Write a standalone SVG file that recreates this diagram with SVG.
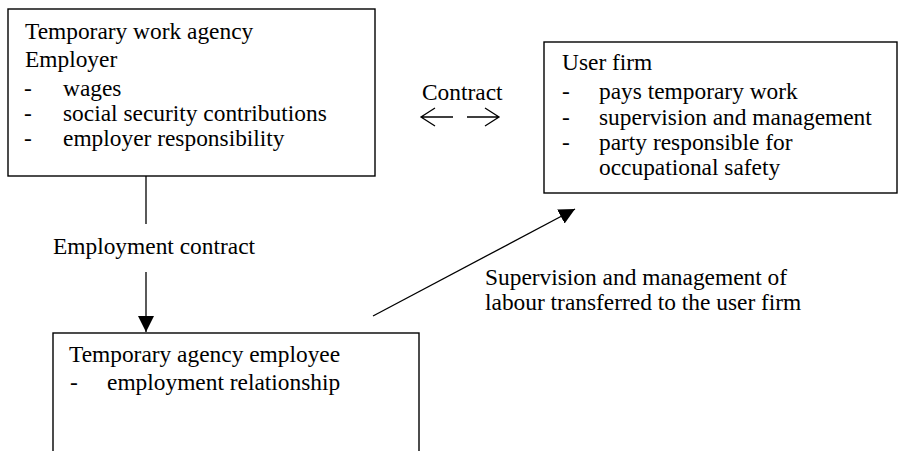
<svg xmlns="http://www.w3.org/2000/svg" width="899" height="451" viewBox="0 0 899 451">
<style>
text{font-family:"Liberation Serif","Times New Roman",serif;font-size:23.4px;fill:#000}
.box{fill:#fff;stroke:#000;stroke-width:1.4}
.ln{stroke:#000;stroke-width:1.3;fill:none}
</style>
<defs>
<marker id="ah" viewBox="0 0 16 16" refX="16" refY="8" markerWidth="16" markerHeight="16" markerUnits="userSpaceOnUse" orient="auto">
<path d="M0,0 L16,8 L0,16 Z" fill="#000"/>
</marker>
</defs>
<rect width="899" height="451" fill="#fff"/>
<g id="agency">
<rect class="box" x="8" y="9" width="367" height="167"/>
<text x="25" y="39">Temporary work agency</text>
<text x="25" y="67">Employer</text>
<text x="24" y="96">-</text><text x="63" y="96">wages</text>
<text x="24" y="121">-</text><text x="63" y="121">social security contributions</text>
<text x="24" y="146">-</text><text x="63" y="146">employer responsibility</text>
</g>
<g id="userfirm">
<rect class="box" x="544" y="42" width="353" height="151"/>
<text x="562" y="70">User firm</text>
<text x="562" y="99">-</text><text x="599" y="99">pays temporary work</text>
<text x="562" y="125">-</text><text x="599" y="125">supervision and management</text>
<text x="562" y="150">-</text><text x="599" y="150">party responsible for</text>
<text x="599" y="175">occupational safety</text>
</g>
<g id="employee">
<rect class="box" x="53" y="333" width="366" height="130"/>
<text x="69" y="362">Temporary agency employee</text>
<text x="70" y="390">-</text><text x="107" y="390">employment relationship</text>
</g>
<g id="connectors">
<line class="ln" x1="146" y1="176" x2="146" y2="224"/>
<text x="53" y="254">Employment contract</text>
<line class="ln" x1="146" y1="272" x2="146" y2="332" marker-end="url(#ah)"/>
<text x="422" y="100">Contract</text>
<path class="ln" d="M453,117 H421 M435,108 L421,117 L435,126"/>
<path class="ln" d="M467,117 H499 M485,108 L499,117 L485,126"/>
<line class="ln" x1="373" y1="316" x2="575" y2="209" marker-end="url(#ah)"/>
<text x="485" y="285">Supervision and management of</text>
<text x="485" y="310">labour transferred to the user firm</text>
</g>
</svg>
